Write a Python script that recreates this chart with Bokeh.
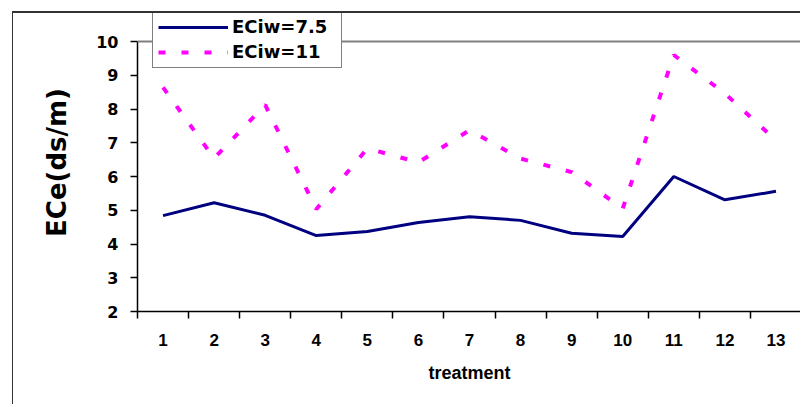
from bokeh.plotting import figure
from bokeh.models import FixedTicker, Range1d, LinearAxis, Span
from bokeh.embed import file_html
from bokeh.resources import INLINE

treatment = list(range(1, 14))
eciw_75 = [4.84, 5.22, 4.85, 4.25, 4.37, 4.64, 4.81, 4.70, 4.32, 4.22, 6.00, 5.31, 5.56]
eciw_11 = [8.64, 6.54, 8.12, 5.03, 6.83, 6.42, 7.37, 6.53, 6.13, 5.05, 9.60, 8.46, 7.07]
y_ticks = [2, 3, 4, 5, 6, 7, 8, 9, 10]
x_bounds = [i + 0.5 for i in range(0, 14)]

y_min, y_max = y_ticks[0], y_ticks[-1]
# frame extends above the value area so the legend (which overlaps the top) is not clipped
data_px, frame_px = 270, 298
y_top = y_min + (y_max - y_min) * frame_px / data_px

p = figure(width=788, height=393, output_backend="svg", toolbar_location=None,
           x_range=Range1d(0.5, 13.5), y_range=Range1d(y_min, y_top),
           min_border_left=124, min_border_right=0, min_border_top=0, min_border_bottom=95)
p.margin = (11, 0, 0, 12)
p.styles = {"border-top": "2px solid #333333", "border-left": "1px solid #333333"}

p.xgrid.visible = False
p.ygrid.visible = False
p.outline_line_color = None
p.background_fill_color = "white"
p.border_fill_color = "white"

p.add_layout(Span(location=y_max, dimension="width", line_color="#808080", line_width=2))
right_axis = LinearAxis(bounds=(y_min, y_max), ticker=FixedTicker(ticks=[]),
                        axis_line_color="#808080", axis_line_width=2,
                        major_label_text_font_size="0px", major_tick_out=0, minor_tick_out=0)
p.add_layout(right_axis, "right")

p.line(treatment, eciw_75, line_color="#000080", line_width=3, legend_label="ECiw=7.5")
p.line(treatment, eciw_11, line_color="#FF00FF", line_width=4, line_dash="7 16",
       legend_label="ECiw=11")

xa = p.xaxis[0]
xa.ticker = FixedTicker(ticks=treatment, minor_ticks=x_bounds)
xa.major_tick_out = 0
xa.major_tick_in = 0
xa.minor_tick_out = 7
xa.minor_tick_in = 0
xa.minor_tick_line_color = "black"
xa.minor_tick_line_width = 1.5
xa.axis_line_color = "black"
xa.axis_line_width = 1.5
xa.major_label_text_font = "Liberation Sans"
xa.major_label_text_font_style = "bold"
xa.major_label_text_font_size = "17px"
xa.major_label_text_color = "black"
xa.major_label_standoff = 15
xa.axis_label = "treatment"
xa.axis_label_text_font = "Liberation Sans"
xa.axis_label_text_font_style = "bold"
xa.axis_label_text_font_size = "18px"
xa.axis_label_text_color = "black"
xa.axis_label_standoff = 14

ya = p.yaxis[0]
ya.bounds = (y_min, y_max)
ya.ticker = FixedTicker(ticks=y_ticks, minor_ticks=[])
ya.major_tick_out = 7
ya.major_tick_in = 0
ya.major_tick_line_color = "black"
ya.major_tick_line_width = 1.5
ya.axis_line_color = "black"
ya.axis_line_width = 1.5
ya.major_label_text_font = "DejaVu Sans"
ya.major_label_text_font_style = "bold"
ya.major_label_text_font_size = "16px"
ya.major_label_text_color = "black"
ya.major_label_standoff = 12
ya.axis_label = "ECe(ds/m)"
ya.axis_label_text_font = "DejaVu Sans"
ya.axis_label_text_font_style = "bold"
ya.axis_label_text_font_size = "26px"
ya.axis_label_text_color = "black"
ya.axis_label_standoff = 21

lg = p.legend[0]
lg.location = (15, 243)
lg.border_line_color = "black"
lg.border_line_width = 1
lg.background_fill_color = "white"
lg.background_fill_alpha = 1
lg.padding = 5
lg.spacing = 4
lg.margin = 0
lg.glyph_width = 70
lg.glyph_height = 20
lg.label_height = 20
lg.label_width = 104
lg.label_standoff = 4
lg.label_text_font = "DejaVu Sans"
lg.label_text_font_style = "bold"
lg.label_text_font_size = "18px"
lg.label_text_color = "black"

open("out.html", "w").write(file_html(p, INLINE))
